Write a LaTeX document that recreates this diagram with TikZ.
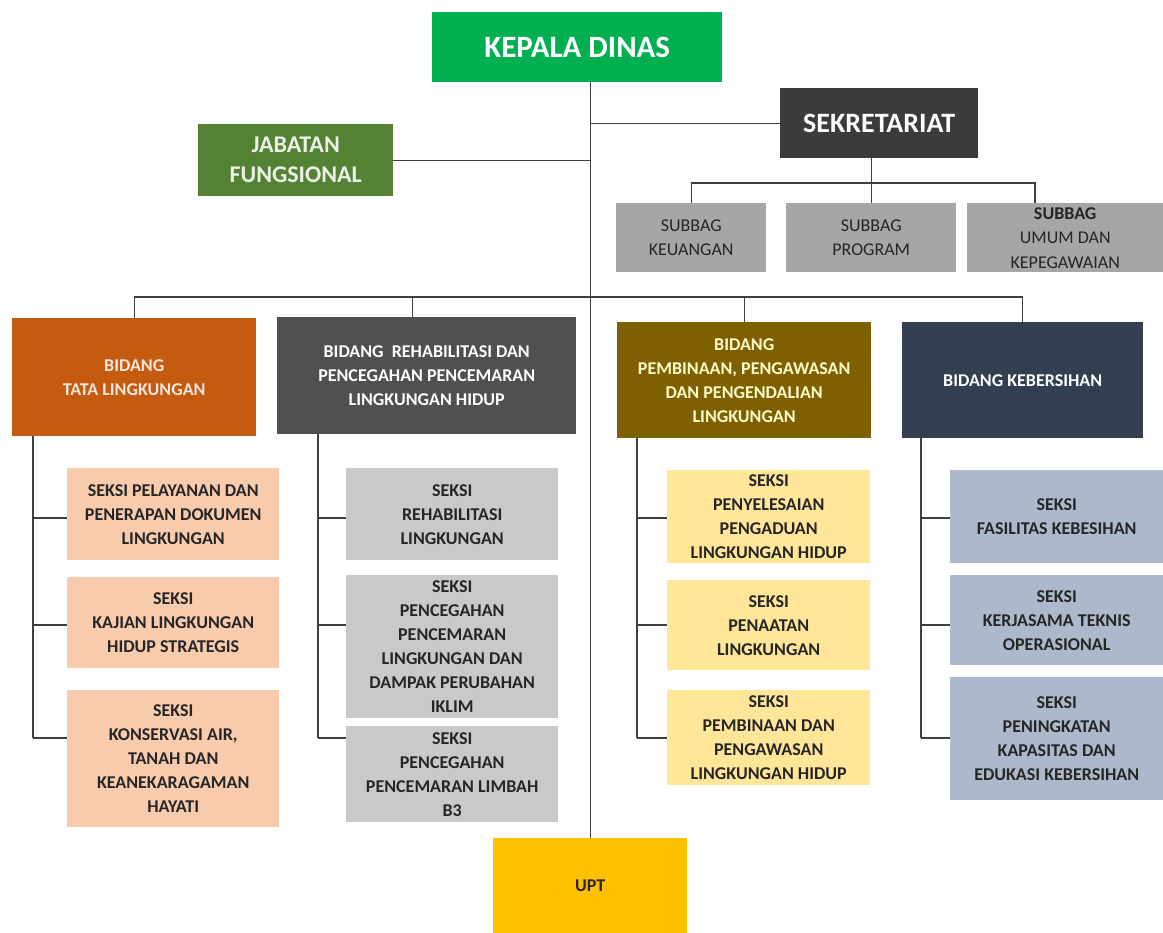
\documentclass[tikz,border=0pt]{standalone}
\usepackage{fontspec}
\setmainfont{Carlito}

\definecolor{kadisgreen}{HTML}{00B050}
\definecolor{jabgreen}{HTML}{548235}
\definecolor{sekgray}{HTML}{3B3B3B}
\definecolor{subgray}{HTML}{A6A6A6}
\definecolor{tataor}{HTML}{C55A11}
\definecolor{rehabgray}{HTML}{505050}
\definecolor{pembolive}{HTML}{7F6000}
\definecolor{kebnavy}{HTML}{333F50}
\definecolor{tatalight}{HTML}{F8CBAD}
\definecolor{rehablight}{HTML}{C9C9C9}
\definecolor{pemblight}{HTML}{FFE699}
\definecolor{keblight}{HTML}{ADB9CA}
\definecolor{uptyellow}{HTML}{FFC000}
\definecolor{linegray}{HTML}{404040}
\definecolor{txtdark}{HTML}{262626}

\begin{document}
\begin{tikzpicture}[x=1pt,y=-1pt,
  box/.style={anchor=north west, inner sep=0pt, align=center,
    font=\bfseries\fontsize{18}{24}\selectfont},
  subbox/.style={box, fill=subgray, text=txtdark,
    font=\fontsize{18}{24.5}\selectfont},
  seksi/.style={box, text=txtdark, minimum width=212},
  link/.style={draw=linegray, line width=1.3pt}]
\useasboundingbox (0,0) rectangle (1163,933);

% pimpinan
\node[box, fill=kadisgreen, text=white, minimum width=290, minimum height=70,
  font=\bfseries\fontsize{31}{36}\selectfont] (kadis) at (432,12) {KEPALA DINAS};
\node[box, fill=sekgray, text=white, minimum width=198, minimum height=70,
  font=\bfseries\fontsize{28}{32}\selectfont] (sek) at (780,88) {SEKRETARIAT};
\node[box, fill=jabgreen, text=white!88!jabgreen, minimum width=195, minimum height=72,
  font=\bfseries\fontsize{24}{30}\selectfont] (jab) at (198,124) {JABATAN\\FUNGSIONAL};

% subbag
\node[subbox, minimum width=150, minimum height=69] (keu) at (616,203) {SUBBAG\\KEUANGAN};
\node[subbox, minimum width=170, minimum height=69] (prog) at (786,203) {SUBBAG\\PROGRAM};
\node[subbox, minimum width=196, minimum height=69] (umum) at (967,203) {{\bfseries SUBBAG}\\UMUM DAN\\KEPEGAWAIAN};

% bidang
\node[box, fill=tataor, text=white!85!tataor, minimum width=244, minimum height=118] (tata) at (12,318) {BIDANG\\TATA LINGKUNGAN};
\node[box, fill=rehabgray, text=white, minimum width=299, minimum height=117] (rehab) at (277,317) {BIDANG\ \ REHABILITASI DAN\\PENCEGAHAN PENCEMARAN\\LINGKUNGAN HIDUP};
\node[box, fill=pembolive, text=white!80!yellow, minimum width=254, minimum height=116] (pemb) at (617,322) {BIDANG\\PEMBINAAN, PENGAWASAN\\DAN PENGENDALIAN\\LINGKUNGAN};
\node[box, fill=kebnavy, text=white, minimum width=241, minimum height=116] (keb) at (902,322) {BIDANG KEBERSIHAN};

% seksi
\node[seksi, fill=tatalight, minimum height=92] (sa1) at (67,468) {SEKSI PELAYANAN DAN\\PENERAPAN DOKUMEN\\LINGKUNGAN};
\node[seksi, fill=tatalight, minimum height=91] (sa2) at (67,577) {SEKSI\\KAJIAN LINGKUNGAN\\HIDUP STRATEGIS};
\node[seksi, fill=tatalight, minimum height=137] (sa3) at (67,690) {SEKSI\\KONSERVASI AIR,\\TANAH DAN\\KEANEKARAGAMAN\\HAYATI};

\node[seksi, fill=rehablight, minimum height=92] (sb1) at (346,468) {SEKSI\\REHABILITASI\\LINGKUNGAN};
\node[seksi, fill=rehablight, minimum height=143] (sb2) at (346,575) {SEKSI\\PENCEGAHAN\\PENCEMARAN\\LINGKUNGAN DAN\\DAMPAK PERUBAHAN\\IKLIM};
\node[seksi, fill=rehablight, minimum height=96] (sb3) at (346,726) {SEKSI\\PENCEGAHAN\\PENCEMARAN LIMBAH\\B3};

\node[seksi, fill=pemblight, minimum width=203, minimum height=93] (sc1) at (667,470) {SEKSI\\PENYELESAIAN\\PENGADUAN\\LINGKUNGAN HIDUP};
\node[seksi, fill=pemblight, minimum width=203, minimum height=90] (sc2) at (667,580) {SEKSI\\PENAATAN\\LINGKUNGAN};
\node[seksi, fill=pemblight, minimum width=203, minimum height=95] (sc3) at (667,690) {SEKSI\\PEMBINAAN DAN\\PENGAWASAN\\LINGKUNGAN HIDUP};

\node[seksi, fill=keblight, minimum width=213, minimum height=93] (sd1) at (950,470) {SEKSI\\FASILITAS KEBESIHAN};
\node[seksi, fill=keblight, minimum width=213, minimum height=90] (sd2) at (950,575) {SEKSI\\KERJASAMA TEKNIS\\OPERASIONAL};
\node[seksi, fill=keblight, minimum width=213, minimum height=123] (sd3) at (950,677) {SEKSI\\PENINGKATAN\\KAPASITAS DAN\\EDUKASI KEBERSIHAN};

\node[box, fill=uptyellow, text=txtdark, minimum width=194, minimum height=95] (upt) at (493,838) {UPT};

% garis komando
\draw[link] (upt.north) -- (upt.north |- kadis.south);
\draw[link] (sek.west) -- (sek.west -| upt.north);
\draw[link] (jab.east) -- (jab.east -| upt.north);

\coordinate (sbus) at (872,183);
\draw[link] (prog.north) -- (prog.north |- sek.south);
\draw[link] (keu.north) |- (sbus) -| ([xshift=68pt]umum.north west);

\coordinate (bbus) at (590,297);
\draw[link] (tata.north) |- (bbus) -| (keb.north);
\draw[link] ([xshift=-14pt]rehab.north) -- ([xshift=-14pt]rehab.north |- bbus);
\draw[link] (pemb.north) -- (pemb.north |- bbus);

% garis seksi
\foreach \c/\x in {a/33,b/318,c/637,d/921}{
  \coordinate (v\c1) at (\x,518);
  \coordinate (v\c2) at (\x,625);
  \coordinate (v\c3) at (\x,738);
}
\foreach \b/\c in {tata/a,rehab/b,pemb/c,keb/d}{
  \draw[link] (\b.south -| v\c1) -- (v\c3);
  \foreach \i in {1,2,3}
    \draw[link] (v\c\i) -- (s\c\i.west |- v\c\i);
}
\end{tikzpicture}
\end{document}
